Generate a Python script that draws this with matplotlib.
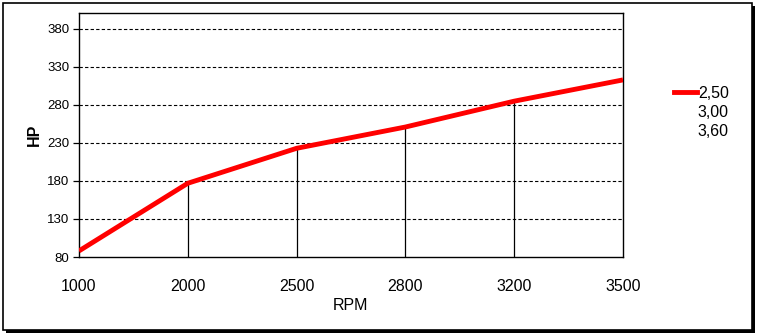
import matplotlib
matplotlib.use("Agg")
import matplotlib.pyplot as plt
from matplotlib.patches import Rectangle
from matplotlib.lines import Line2D

plt.rcParams['font.family'] = ['Liberation Sans', 'DejaVu Sans']

rpm = ["1000", "2000", "2500", "2800", "3200", "3500"]
hp_250 = [88, 177, 223, 251, 285, 313]
series_names = ["2,50", "3,00", "3,60"]
yticks = [80, 130, 180, 230, 280, 330, 380]

W, H = 759, 336
fig = plt.figure(figsize=(W / 100, H / 100), dpi=100)
fig.patch.set_facecolor("white")

# outer frame with shadow
fig.patches.append(Rectangle((6 / W, 1 - 333 / H), 749 / W, 327 / H, transform=fig.transFigure,
                             facecolor="black", edgecolor="none", zorder=-2))
fig.patches.append(Rectangle((3 / W, 1 - 330 / H), 749 / W, 327 / H, transform=fig.transFigure,
                             facecolor="white", edgecolor="black", linewidth=1.2, zorder=-1))

ax = fig.add_axes([79 / W, 1 - 257 / H, (623 - 79) / W, (257 - 13) / H])
ax.set_facecolor("white")
x = list(range(len(rpm)))
ax.set_xlim(0, len(rpm) - 1)
ax.set_ylim(80, 401)

for yt in yticks[1:]:
    ax.axhline(yt, color="black", linestyle=(0, (3, 2)), linewidth=0.8, zorder=1)

# drop lines
for xi, v in zip(x[1:-1], hp_250[1:-1]):
    ax.plot([xi, xi], [80, v], color="black", linewidth=0.9, zorder=2)

ax.plot(x, hp_250, color="#ff0000", linewidth=3.5, solid_capstyle="butt", zorder=3)

ax.set_xticks(x)
ax.set_xticklabels(rpm, fontsize=11.5)
ax.tick_params(axis="x", length=0, pad=16)
ax.set_yticks(yticks)
ax.set_yticklabels([str(t) for t in yticks], fontsize=9.5)
ax.tick_params(axis="y", length=4, width=0.9, direction="out", pad=3)
for s in ax.spines.values():
    s.set_linewidth(1.0)
    s.set_color("black")

ax.set_xlabel("RPM", fontsize=11.5, labelpad=3)
ax.set_ylabel("HP", fontsize=11.5, fontweight="bold", labelpad=4)

handles = [Line2D([0], [0], color="#ff0000", linewidth=3.5),
           Line2D([0], [0], color="none"),
           Line2D([0], [0], color="none")]
leg = fig.legend(handles, series_names, loc="upper left",
                 bbox_to_anchor=(666 / W, 1 - 78 / H), frameon=False,
                 fontsize=11.5, handlelength=1.45, handletextpad=0.05,
                 labelspacing=0.25, borderpad=0)

fig.savefig("out.png", dpi=100, facecolor="white")
